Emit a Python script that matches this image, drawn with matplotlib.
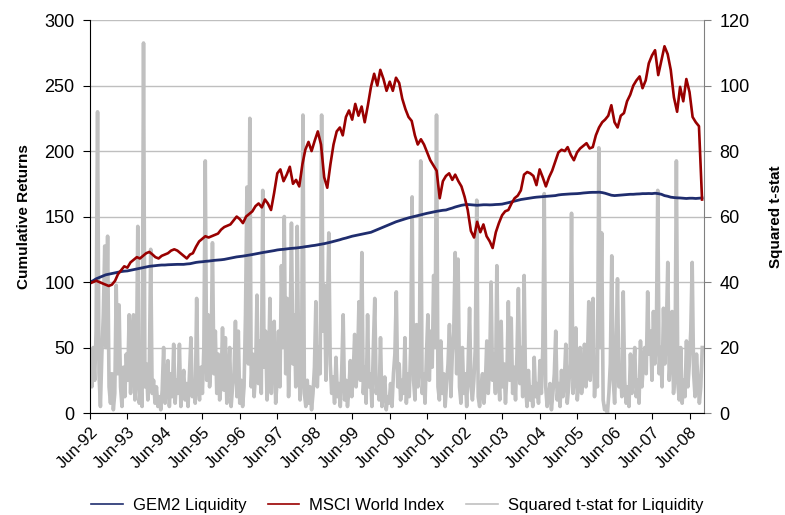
import matplotlib
matplotlib.use("Agg")
import matplotlib.pyplot as plt
import matplotlib.dates as mdates
from matplotlib.lines import Line2D
import pandas as pd

plt.rcParams['font.family'] = ['Liberation Sans', 'DejaVu Sans']

# monthly series, Jun-92 .. Oct-08
months = pd.date_range('1992-06-01', periods=197, freq='MS')

msci = [99, 100, 101, 100, 99, 98, 97, 98, 101, 106, 109, 112,
        111, 115, 117, 119, 118, 120, 122, 123, 121, 119, 118, 120,
        121, 122, 124, 125, 124, 122, 120, 118, 121, 122, 127, 131,
        133, 135, 134, 135, 136, 137, 140, 142, 143, 144, 147, 150,
        148, 145, 150, 152, 154, 158, 160, 157, 163, 160, 155, 168,
        183, 186, 177, 182, 188, 175, 178, 173, 190, 201, 207, 200,
        208, 215, 205, 180, 172, 190, 205, 215, 218, 212, 226, 231,
        224, 236, 227, 234, 222, 235, 249, 259, 250, 262, 255, 246,
        253, 246, 256, 252, 240, 232, 226, 223, 212, 205, 209, 205,
        199, 193, 189, 185, 164, 177, 181, 183, 178, 182, 177, 173,
        165, 155, 139, 134, 146, 138, 144, 135, 131, 126, 138, 145,
        151, 154, 155, 160, 164, 166, 170, 182, 184, 183, 181, 174,
        186, 180, 173, 180, 185, 192, 199, 201, 200, 203, 197, 193,
        199, 202, 204, 206, 202, 203, 212, 218, 222, 224, 227, 235,
        222, 218, 227, 229, 238, 243, 250, 254, 257, 248, 254, 267,
        273, 277, 258, 269, 280, 274, 262, 241, 230, 249, 238, 255,
        245, 226, 222, 219, 163]

gem2 = [100, 101, 102.5, 103.5, 104.5, 105.5, 106, 106.5, 107, 107.5, 108, 108.3,
        108.5, 109, 109.5, 110, 110.5, 111, 111.5, 112, 112.3, 112.5, 112.8, 113,
        113, 113.2, 113.3, 113.4, 113.5, 113.5, 113.5, 113.8, 114, 114.5, 115, 115.3,
        115.5, 115.8, 116, 116.3, 116.6, 116.8, 117, 117.3, 117.8, 118.3, 118.8, 119.2,
        119.5, 119.8, 120.2, 120.6, 121, 121.5, 122, 122.4, 122.8, 123.2, 123.6, 124,
        124.5, 124.8, 125, 125.3, 125.6, 125.8, 126, 126.3, 126.6, 127, 127.3, 127.7,
        128, 128.4, 128.8, 129.3, 129.8, 130.4, 131, 131.6, 132.3, 133, 133.6, 134.3,
        135, 135.5, 136, 136.5, 137, 137.5, 138, 139, 140, 141, 142, 143,
        144, 145, 146, 146.8, 147.6, 148.3, 149, 149.6, 150.2, 150.8, 151.4, 152,
        152.5, 153, 153.5, 154, 154.4, 154.8, 155, 155.8, 156.5, 157.3, 158, 158.6,
        159, 159.2, 159, 158.8, 158.6, 158.8, 159, 159, 158.9, 159, 159.2, 159.3,
        159.5, 160, 160.6, 161.2, 161.8, 162.4, 163, 163.4, 163.8, 164.2, 164.5, 164.8,
        165, 165.2, 165.4, 165.6, 165.8, 166, 166.5, 166.8, 167, 167.2, 167.3, 167.4,
        167.5, 167.7, 168, 168.2, 168.4, 168.5, 168.5, 168.6, 168.3, 167.8, 167, 166.3,
        166, 166.2, 166.4, 166.6, 166.8, 167, 167, 167.2, 167.3, 167.5, 167.5, 167.6,
        167.5, 167.8, 167.5, 167, 166, 165.5, 164.8, 164.5, 164.3, 164.2, 164, 163.8,
        164, 164, 163.8, 164, 164.2]

# squared t-stat, every two weeks
weeks = pd.date_range('1992-06-05', periods=427, freq='14D')

tstat = [15, 8, 20, 10, 25, 92, 12, 2, 18, 30, 51, 20, 54, 8, 3, 12, 1, 6, 39, 12, 33, 8, 2, 14, 5, 18,
         10, 30, 6, 22, 30, 4, 12, 57, 3, 9, 2, 113, 8, 15, 4, 12, 50, 6, 10, 3, 8, 2, 5, 1, 7, 20,
         3, 9, 16, 2, 12, 5, 21, 3, 10, 6, 21, 2, 8, 13, 4, 9, 2, 12, 23, 5, 9, 3, 35, 8, 4, 14,
         6, 20, 77, 10, 30, 8, 15, 52, 12, 25, 6, 18, 4, 9, 26, 7, 23, 3, 10, 20, 2, 8, 12, 28, 5, 25,
         3, 10, 2, 8, 30, 69, 15, 90, 8, 18, 5, 12, 36, 9, 22, 6, 68, 14, 25, 4, 12, 35, 6, 18, 28, 3,
         10, 25, 8, 45, 20, 60, 12, 35, 5, 22, 58, 15, 30, 8, 57, 18, 4, 12, 91, 6, 2, 10, 3, 8, 1, 6,
         14, 34, 8, 20, 12, 91, 25, 39, 10, 30, 55, 15, 6, 11, 3, 17, 5, 9, 2, 13, 30, 4, 10, 2, 7, 16,
         5, 12, 24, 8, 15, 34, 10, 49, 6, 14, 3, 30, 8, 12, 2, 20, 35, 6, 10, 4, 23, 2, 7, 11, 1, 5,
         3, 9, 2, 12, 18, 37, 8, 15, 4, 10, 6, 23, 3, 12, 5, 20, 66, 10, 4, 27, 8, 15, 77, 6, 12, 3,
         18, 30, 10, 25, 14, 42, 20, 91, 8, 4, 22, 6, 12, 2, 9, 15, 27, 5, 18, 25, 49, 12, 47, 8, 3, 20,
         6, 12, 2, 15, 32, 8, 4, 10, 20, 65, 5, 2, 8, 12, 3, 9, 22, 6, 15, 40, 10, 18, 6, 45, 12, 4,
         28, 8, 15, 3, 12, 34, 10, 29, 6, 14, 4, 18, 38, 9, 20, 5, 42, 8, 2, 13, 4, 8, 2, 17, 5, 9,
         3, 16, 6, 20, 67, 8, 2, 5, 9, 1, 6, 12, 25, 4, 9, 2, 13, 5, 10, 21, 3, 8, 15, 61, 6, 12,
         26, 4, 10, 20, 6, 12, 21, 8, 15, 34, 10, 20, 35, 5, 16, 8, 81, 20, 55, 4, 1, 2, 0, 6, 15, 48,
         10, 3, 20, 41, 8, 14, 5, 37, 10, 3, 8, 2, 18, 6, 12, 20, 5, 10, 3, 22, 8, 15, 20, 12, 37, 18,
         25, 10, 31, 15, 22, 68, 12, 20, 8, 32, 15, 25, 46, 10, 18, 31, 6, 12, 77, 9, 4, 20, 3, 10, 5, 22,
         8, 15, 25, 46, 12, 5, 18, 10, 3, 8, 20]

fig = plt.figure(figsize=(7.85, 5.15), dpi=100)
ax = fig.add_axes([0.1146, 0.198, 0.7822, 0.763])
ax2 = ax.twinx()

# gray t-stat behind the two return lines
ax2.plot(weeks, tstat, color='#C0C0C0', lw=2.6, zorder=2)
ax2.set_ylim(0, 120)
ax2.set_yticks(range(0, 121, 20))
ax2.yaxis.grid(True, color='#BFBFBF', lw=1)
ax2.set_axisbelow(True)

ax.set_zorder(ax2.get_zorder() + 1)
ax.patch.set_visible(False)
ax.plot(months, gem2, color='#1F2D6E', lw=2.0)
ax.plot(months, msci, color='#990000', lw=1.9)
ax.set_ylim(0, 300)
ax.set_yticks(range(0, 301, 50))

ax.set_xlim(pd.Timestamp('1992-06-01'), pd.Timestamp('2008-10-20'))
ticks = pd.date_range('1992-06-01', periods=17, freq='12MS')
ax.set_xticks(ticks)
ax.xaxis.set_major_formatter(mdates.DateFormatter('%b-%y'))
for lab in ax.get_xticklabels():
    lab.set_rotation(45)
    lab.set_ha('right')
    lab.set_rotation_mode('anchor')
    lab.set_fontsize(12)

ax.tick_params(axis='y', labelsize=13, direction='out', length=5, color='black', pad=6)
ax.tick_params(axis='x', direction='out', length=4, color='black', pad=4)
ax2.tick_params(axis='y', labelsize=13, direction='out', length=5, color='#808080', pad=6)

for a in (ax, ax2):
    a.spines['top'].set_visible(False)
ax.spines['right'].set_visible(False)
ax.spines['left'].set_color('black')
ax.spines['bottom'].set_color('black')
ax2.spines['left'].set_visible(False)
ax2.spines['bottom'].set_visible(False)
ax2.spines['right'].set_color('#808080')

ax.set_ylabel('Cumulative Returns', fontsize=11, fontweight='bold', labelpad=10)
ax2.set_ylabel('Squared t-stat', fontsize=11, fontweight='bold', labelpad=14, rotation=90)

handles = [Line2D([], [], color='#1F2D6E', lw=1.2),
           Line2D([], [], color='#990000', lw=1.2),
           Line2D([], [], color='#C0C0C0', lw=1.2)]
fig.legend(handles, ['GEM2 Liquidity', 'MSCI World Index', 'Squared t-stat for Liquidity'],
           loc='lower center', bbox_to_anchor=(0.506, -0.025), ncol=3, frameon=False,
           fontsize=12, handlelength=1.9, columnspacing=1.3, handletextpad=0.6)

fig.savefig('out.png', dpi=100)
